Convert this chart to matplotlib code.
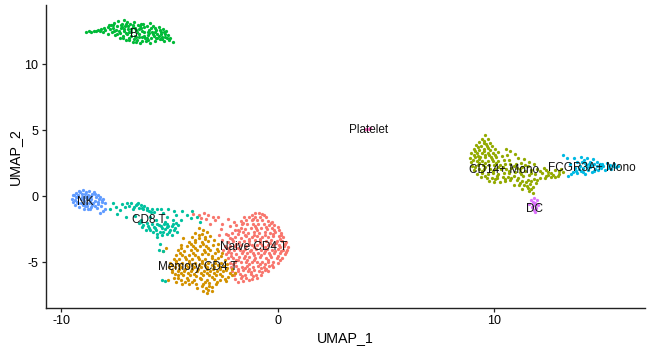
import matplotlib
matplotlib.use('Agg')
import matplotlib.pyplot as plt
import numpy as np

plt.rcParams['font.family'] = ['Liberation Sans', 'DejaVu Sans']

naive_cd4 = [
    (-3.9,-1.35),(-3.65,-1.4),(-3.4,-1.3),(-3.2,-1.45),(-3.0,-1.55),(-3.55,-1.7),(-3.3,-1.75),(-2.9,-1.85),
    (-3.1,-2.1),(-2.75,-1.6),(-2.55,-2.1),(-2.3,-1.75),(-2.6,-2.5),(-2.2,-2.3),(-2.4,-2.9),(-2.0,-2.0),
    (-1.05,-1.25),(-0.85,-1.3),(-0.7,-1.35),(-1.2,-1.4),(-1.55,-1.6),(-1.3,-1.6),(-1.05,-1.55),(-0.8,-1.6),(-0.55,-1.6),
    (-1.7,-1.9),(-1.45,-1.85),(-1.2,-1.85),(-0.95,-1.8),(-0.7,-1.85),(-0.45,-1.9),(-0.25,-1.95),
    (-1.9,-2.2),(-1.65,-2.15),(-1.4,-2.1),(-1.15,-2.15),(-0.9,-2.1),(-0.65,-2.15),(-0.4,-2.2),(-0.15,-2.2),(0.0,-2.35),
    (-1.95,-2.55),(-1.7,-2.45),(-1.5,-2.5),(-1.25,-2.4),(-1.0,-2.45),(-0.75,-2.4),(-0.5,-2.5),(-0.25,-2.45),(0.05,-2.6),(0.15,-2.8),
    (-2.1,-2.8),(-1.85,-2.85),(-1.6,-2.75),(-1.35,-2.8),(-1.1,-2.75),(-0.85,-2.8),(-0.6,-2.75),(-0.35,-2.8),(-0.1,-2.75),
    (-2.2,-3.15),(-1.95,-3.1),(-1.7,-3.15),(-1.45,-3.05),(-1.2,-3.1),(-0.95,-3.05),(-0.7,-3.1),(-0.45,-3.1),(-0.2,-3.05),(0.05,-3.05),(0.25,-3.1),
    (-2.3,-3.5),(-2.05,-3.4),(-1.8,-3.45),(-1.55,-3.4),(-1.3,-3.4),(-1.05,-3.35),(-0.8,-3.4),(-0.55,-3.4),(-0.3,-3.35),(-0.05,-3.4),(0.2,-3.4),(0.4,-3.45),
    (-2.45,-3.8),(-2.2,-3.75),(-1.95,-3.75),(-1.7,-3.7),(-1.45,-3.75),(-1.2,-3.7),(-0.95,-3.7),(-0.7,-3.7),(-0.45,-3.7),(-0.2,-3.7),(0.05,-3.7),(0.3,-3.75),(0.47,-3.85),
    (-2.5,-4.1),(-2.25,-4.05),(-2.0,-4.05),(-1.75,-4.05),(-1.5,-4.0),(-1.25,-4.05),(-1.0,-4.0),(-0.75,-4.05),(-0.5,-4.0),(-0.25,-4.05),(0.0,-4.0),(0.25,-4.05),(0.45,-4.1),
    (-2.4,-4.4),(-2.15,-4.35),(-1.9,-4.4),(-1.65,-4.35),(-1.4,-4.35),(-1.15,-4.35),(-0.9,-4.35),(-0.65,-4.35),(-0.4,-4.35),(-0.15,-4.35),(0.1,-4.35),(0.35,-4.4),
    (-2.3,-4.7),(-2.05,-4.7),(-1.8,-4.65),(-1.55,-4.7),(-1.3,-4.65),(-1.05,-4.7),(-0.8,-4.65),(-0.55,-4.7),(-0.3,-4.65),(-0.05,-4.7),(0.2,-4.7),
    (-2.2,-5.05),(-1.95,-5.0),(-1.7,-5.0),(-1.45,-5.0),(-1.2,-5.0),(-0.95,-5.0),(-0.7,-5.0),(-0.45,-5.0),(-0.2,-5.0),(0.0,-5.05),
    (-2.15,-5.35),(-1.9,-5.3),(-1.65,-5.35),(-1.4,-5.3),(-1.15,-5.35),(-0.9,-5.3),(-0.65,-5.35),(-0.4,-5.3),(-0.2,-5.4),
    (-2.1,-5.65),(-1.85,-5.65),(-1.6,-5.6),(-1.35,-5.65),(-1.1,-5.6),(-0.85,-5.65),(-0.6,-5.6),(-0.45,-5.7),
    (-2.0,-5.95),(-1.75,-5.9),(-1.5,-5.95),(-1.25,-5.9),(-1.0,-5.95),(-0.75,-5.95),
    (-1.95,-6.25),(-1.7,-6.2),(-1.45,-6.2),(-1.2,-6.25),(-0.95,-6.2),(-1.85,-6.5),(-1.6,-6.4),
    (-2.7,-2.95),(-2.55,-3.3),(-1.83,-2.6),(-1.08,-2.95),(-0.58,-2.95),(-1.33,-3.6),(-0.83,-3.55),(-0.33,-3.55),(-1.58,-4.2),
    (-0.58,-4.2),(0.17,-4.2),(-1.08,-4.5),(-0.33,-4.5),(-1.83,-4.85),(-1.08,-4.85),(-0.58,-5.15),(-1.33,-5.5),(-1.83,-5.5),
    (-1.12,-1.72),(-0.63,-1.43),(-1.58,-2.02),(-0.32,-2.07),(-1.03,-2.28),(-0.52,-2.33),(-1.77,-2.67),(-0.93,-2.6),(-0.17,-2.6),(-1.52,-2.92),
    (-2.27,-2.98),(-0.23,-2.9),(0.17,-2.95),(-1.33,-3.23),(-0.83,-3.22),(-2.12,-3.27),(0.12,-3.23),(-1.93,-3.6),(-0.08,-3.55),(0.33,-3.6),
    (-2.33,-3.92),(-1.82,-3.9),(-1.08,-3.87),(-0.58,-3.87),(0.12,-3.88),(-2.27,-4.22),(-1.27,-4.2),(-0.12,-4.2),(0.37,-4.23),(-2.17,-4.52),
    (-1.52,-4.52),(-0.77,-4.5),(0.02,-4.52),(-1.93,-4.83),(-1.42,-4.83),(-0.42,-4.83),(0.12,-4.88),(-2.07,-5.18),(-1.32,-5.17),(-0.83,-5.17),
    (-0.27,-5.2),(-1.52,-5.47),(-0.77,-5.48),(-0.52,-5.52),(-1.97,-5.8),(-1.23,-5.78),(-0.73,-5.78),(-1.63,-6.07),(-1.12,-6.08),(-1.32,-6.38),
]

memory_cd4 = [
    (-3.65,-2.45),(-3.45,-2.55),(-3.8,-2.8),(-3.5,-2.9),(-3.25,-2.75),(-3.95,-3.1),(-3.65,-3.15),(-3.35,-3.1),(-3.1,-3.05),
    (-4.35,-3.2),(-4.1,-3.45),(-3.8,-3.5),(-3.5,-3.45),(-3.2,-3.4),(-2.95,-3.35),(-4.45,-3.7),(-4.2,-3.8),(-3.9,-3.8),(-3.6,-3.75),(-3.3,-3.75),(-3.0,-3.7),(-2.75,-3.6),
    (-5.15,-3.9),(-4.6,-4.1),(-4.3,-4.15),(-4.0,-4.1),(-3.7,-4.1),(-3.4,-4.05),(-3.1,-4.05),(-2.8,-4.0),(-2.55,-4.3),
    (-5.3,-4.2),(-4.7,-4.45),(-4.4,-4.5),(-4.1,-4.45),(-3.8,-4.45),(-3.5,-4.4),(-3.2,-4.4),(-2.9,-4.35),(-2.6,-4.55),
    (-4.8,-4.75),(-4.55,-4.8),(-4.25,-4.75),(-3.95,-4.8),(-3.65,-4.75),(-3.35,-4.75),(-3.05,-4.7),(-2.75,-4.7),(-2.45,-4.85),
    (-4.95,-5.1),(-4.7,-5.1),(-4.4,-5.1),(-4.1,-5.05),(-3.8,-5.1),(-3.5,-5.05),(-3.2,-5.05),(-2.9,-5.05),(-2.6,-5.05),(-2.35,-5.15),
    (-5.0,-5.4),(-4.75,-5.4),(-4.45,-5.4),(-4.15,-5.4),(-3.85,-5.4),(-3.55,-5.35),(-3.25,-5.4),(-2.95,-5.35),(-2.65,-5.4),(-2.35,-5.45),(-2.1,-5.55),
    (-4.9,-5.75),(-4.6,-5.7),(-4.3,-5.7),(-4.0,-5.7),(-3.7,-5.7),(-3.4,-5.65),(-3.1,-5.7),(-2.8,-5.7),(-2.5,-5.7),(-2.2,-5.8),(-1.95,-5.85),
    (-5.05,-6.35),(-4.8,-6.2),(-4.6,-6.0),(-4.35,-6.0),(-4.05,-6.0),(-3.75,-6.05),(-3.45,-6.0),(-3.15,-6.0),(-2.85,-6.0),(-2.55,-6.05),(-2.3,-6.1),
    (-4.7,-6.5),(-4.45,-6.35),(-4.15,-6.35),(-3.85,-6.35),(-3.55,-6.3),(-3.25,-6.35),(-2.95,-6.3),(-2.65,-6.35),(-2.4,-6.45),
    (-4.4,-6.7),(-4.1,-6.7),(-3.75,-6.65),(-3.45,-6.65),(-3.15,-6.6),(-2.85,-6.65),(-3.7,-7.0),(-3.3,-6.95),(-3.05,-6.9),(-3.45,-7.2),(-3.25,-7.35),(-3.05,-7.2),
    (-4.25,-5.25),(-3.65,-5.25),(-3.05,-5.2),(-4.55,-5.55),(-3.95,-5.55),(-3.25,-5.55),(-2.65,-5.55),(-4.15,-5.85),(-3.55,-5.85),(-2.95,-5.85),
    (-3.62,-2.98),(-3.82,-3.32),(-3.37,-3.27),(-4.02,-3.63),(-3.43,-3.6),(-4.47,-3.95),(-3.83,-3.95),(-3.23,-3.9),(-4.53,-4.28),(-3.93,-4.28),
    (-3.33,-4.23),(-2.77,-4.18),(-4.27,-4.6),(-3.67,-4.6),(-3.03,-4.53),(-4.67,-4.93),(-4.08,-4.93),(-3.5,-4.9),(-2.87,-4.88),(-4.87,-5.23),
    (-4.57,-5.25),(-3.97,-5.22),(-3.37,-5.2),(-2.77,-5.22),(-2.47,-5.27),(-4.87,-5.57),(-4.27,-5.55),(-3.67,-5.52),(-2.97,-5.53),(-2.37,-5.6),
    (-4.75,-5.88),(-4.45,-5.85),(-3.85,-5.88),(-3.25,-5.85),(-2.67,-5.87),(-2.1,-5.98),(-4.58,-6.18),(-4.2,-6.17),(-3.6,-6.17),(-3.03,-6.15),
    (-2.43,-6.25),(-4.28,-6.52),(-3.97,-6.53),(-3.37,-6.48),(-2.8,-6.48),(-3.5,-6.83),(-3.17,-6.78),(-3.22,-7.1),
]

cd8_t = [
    (-7.75,-1.0),(-7.6,-0.55),(-7.45,-0.8),(-7.3,-1.05),(-7.2,-0.6),(-7.05,-0.85),(-6.95,-0.5),(-6.85,-0.75),(-6.75,-0.55),(-6.7,-1.0),
    (-6.55,-0.7),(-6.45,-0.5),(-6.4,-0.9),(-6.3,-0.65),(-6.2,-1.0),(-6.15,-0.75),(-6.05,-0.9),(-5.95,-1.15),(-5.8,-0.95),(-5.7,-1.2),(-5.55,-1.0),(-5.4,-0.95),
    (-7.4,-1.35),(-7.0,-1.6),(-6.6,-1.5),(-6.3,-1.85),(-5.9,-1.6),(-5.3,-1.3),(-5.05,-0.95),(-4.8,-1.1),(-5.1,-1.6),(-4.7,-1.45),(-4.4,-1.15),(-4.2,-1.4),(-4.45,-1.85),(-4.0,-1.65),(-3.7,-1.55),(-3.95,-1.1),(-3.6,-1.95),
    (-6.4,-2.05),(-6.2,-2.2),(-6.05,-2.05),(-5.95,-2.4),(-5.8,-2.15),(-5.65,-2.45),(-5.55,-2.1),(-5.45,-2.7),(-5.4,-2.3),(-5.25,-2.1),(-5.2,-2.5),(-5.1,-2.85),
    (-5.05,-2.25),(-4.95,-2.55),(-4.85,-2.1),(-4.75,-2.4),(-4.65,-2.75),(-4.6,-2.2),(-6.1,-2.55),(-5.75,-2.75),(-5.35,-2.95),(-5.55,-3.1),(-4.9,-2.95),(-6.3,-1.95),(-5.6,-1.85),
    (-5.2,-1.95),(-4.85,-1.85),(-5.45,-3.6),(-5.5,-4.05),(-5.3,-4.15),(-5.35,-6.35),(-5.2,-6.4),
    (-6.62,-0.82),(-6.28,-0.93),(-6.5,-0.62),(-6.02,-1.05),(-5.87,-1.18),(-6.27,-2.35),(-6.0,-2.27),(-5.88,-2.6),(-5.72,-2.32),(-5.6,-2.6),
    (-5.48,-2.18),(-5.32,-2.42),(-5.3,-2.72),(-5.13,-2.13),(-5.12,-2.38),(-5.0,-2.72),(-4.88,-2.3),(-4.8,-2.6),(-4.68,-2.05),(-5.58,-2.85),
]

nk = [
    (-9.5,-0.2),(-9.45,-0.45),(-9.45,0.05),(-9.35,-0.7),(-9.35,-0.3),(-9.3,0.25),(-9.25,-0.05),(-9.2,-0.55),(-9.15,-0.85),(-9.15,0.4),
    (-9.1,-0.25),(-9.05,0.15),(-9.0,-0.65),(-9.0,0.45),(-8.95,-0.4),(-8.95,-0.95),(-8.9,-0.05),(-8.85,0.3),(-8.8,-0.75),(-8.8,-0.25),
    (-8.75,0.1),(-8.7,-0.5),(-8.7,0.35),(-8.65,-0.95),(-8.6,-0.2),(-8.55,-0.7),(-8.55,0.15),(-8.5,0.3),(-8.45,-0.4),(-8.4,-0.05),
    (-8.35,-0.9),(-8.3,-0.6),(-8.3,0.1),(-8.25,-0.25),(-8.2,-0.1),(-8.15,-0.75),(-8.1,-0.45),(-8.05,-0.2),(-8.05,-1.15),(-7.95,-0.95),(-7.95,-0.55),
    (-9.3,-0.1),(-9.1,-0.5),(-8.9,0.15),(-8.65,-0.4),(-8.85,-0.5),(-9.2,0.1),(-8.45,0.15),(-9.4,0.1),(-8.6,-0.85),(-8.9,-0.75),(-8.75,-1.0),(-8.2,-1.3),
    (-9.28,-0.42),(-9.05,-0.1),(-8.98,-0.22),(-9.12,0.27),(-8.78,-0.07),(-8.63,0.02),(-8.52,-0.53),(-8.42,-0.75),(-8.28,-0.42),(-8.12,-0.28),
]

b_cells = [
    (-8.85,12.45),(-8.7,12.5),(-8.6,12.42),(-8.5,12.52),(-8.4,12.47),(-8.3,12.58),(-8.2,12.5),(-8.15,12.66),(-8.05,12.4),(-8.0,12.72),
    (-7.95,12.55),(-7.85,12.25),(-7.85,12.82),(-7.75,12.62),(-7.7,12.95),(-7.65,12.4),(-7.6,12.75),(-7.55,13.1),(-7.5,12.2),(-7.45,12.55),
    (-7.4,12.9),(-7.35,13.25),(-7.3,11.95),(-7.3,12.35),(-7.25,12.7),(-7.2,13.05),(-7.15,12.1),(-7.1,13.3),(-7.1,12.5),(-7.05,12.85),
    (-7.0,11.8),(-6.95,12.25),(-6.95,13.15),(-6.9,12.65),(-6.85,12.0),(-6.8,13.0),(-6.75,12.4),(-6.7,11.65),(-6.7,12.8),(-6.65,13.2),
    (-6.6,12.15),(-6.55,12.55),(-6.5,11.85),(-6.45,12.95),(-6.4,12.3),(-6.35,11.6),(-6.3,12.7),(-6.25,12.05),(-6.2,13.0),(-6.15,12.45),
    (-6.1,11.75),(-6.05,12.85),(-6.0,12.2),(-5.95,12.6),(-5.9,13.1),(-5.9,11.6),(-5.85,11.95),(-5.8,12.4),(-5.75,12.85),(-5.7,12.1),
    (-5.65,11.75),(-5.6,12.6),(-5.55,12.25),(-5.5,12.8),(-5.45,11.9),(-5.4,12.45),(-5.35,12.05),(-5.3,12.65),(-5.25,11.75),(-5.2,12.25),
    (-5.15,12.5),(-5.1,11.95),(-5.05,12.2),(-5.0,11.8),(-4.95,12.0),(-4.85,11.7),
    (-7.55,12.5),(-7.4,12.25),(-7.25,12.95),(-7.1,12.65),(-7.0,13.05),(-6.85,12.4),(-6.75,12.15),(-6.6,12.75),(-6.5,12.4),(-6.35,12.85),
    (-6.25,12.5),(-6.15,12.15),(-6.0,12.45),(-5.85,12.7),(-5.75,12.3),(-5.55,12.0),(-5.45,12.6),(-5.25,12.4),(-6.55,12.05),(-6.85,11.8),
    (-7.8,12.95),(-7.6,12.95),(-6.3,13.0),(-6.05,11.95),(-6.25,11.75),(-6.55,11.65),(-5.65,12.45),
    (-7.33,12.52),(-7.18,12.82),(-7.02,12.38),(-6.93,12.9),(-6.77,12.62),(-6.67,12.98),(-6.62,11.9),(-6.42,12.62),(-6.38,12.08),(-6.18,12.78),
    (-6.12,11.95),(-5.93,12.32),(-5.97,11.82),(-5.68,12.7),(-5.62,12.0),(-5.38,12.28),(-5.48,12.15),(-5.18,12.02),(-5.32,11.88),(-7.15,11.95),
]

cd14_mono = [
    (9.58,4.6),(9.45,4.35),(9.7,4.3),(9.3,4.1),(9.55,4.05),(9.8,4.05),(9.15,3.85),(9.4,3.8),(9.65,3.8),(9.9,3.8),
    (9.05,3.55),(9.3,3.5),(9.55,3.55),(9.8,3.5),(10.05,3.55),(10.55,3.6),(8.95,3.25),(9.2,3.25),(9.45,3.25),(9.7,3.25),(9.95,3.25),(10.2,3.3),(10.75,3.4),
    (8.9,2.9),(9.1,2.95),(9.35,2.95),(9.6,2.95),(9.85,2.95),(10.1,2.95),(10.35,3.0),(10.6,3.1),(10.95,3.2),
    (8.95,2.6),(9.2,2.65),(9.45,2.65),(9.7,2.65),(9.95,2.65),(10.2,2.65),(10.45,2.7),(10.7,2.75),(11.1,2.85),(11.4,2.8),
    (9.0,2.3),(9.25,2.35),(9.5,2.35),(9.75,2.35),(10.0,2.35),(10.25,2.35),(10.5,2.4),(10.75,2.4),(11.0,2.45),(11.25,2.5),(11.6,2.6),
    (9.05,2.0),(9.3,2.05),(9.55,2.05),(9.8,2.05),(10.05,2.05),(10.3,2.05),(10.55,2.05),(10.8,2.1),(11.05,2.15),(11.3,2.2),(11.55,2.25),(11.85,2.4),
    (9.2,1.7),(9.45,1.75),(9.7,1.7),(9.95,1.75),(10.2,1.7),(10.45,1.75),(10.7,1.75),(10.95,1.8),(11.2,1.85),(11.45,1.9),(11.7,1.95),(12.0,2.05),(12.3,2.1),
    (9.4,1.45),(9.65,1.4),(9.9,1.4),(10.15,1.4),(10.4,1.45),(10.65,1.45),(10.9,1.5),(11.35,1.55),(11.6,1.6),(11.9,1.65),(12.2,1.75),(12.5,1.85),(12.8,1.95),(13.1,2.05),
    (9.75,1.15),(10.0,1.1),(10.25,1.05),(10.5,1.15),(10.75,1.2),(11.05,1.2),(11.3,1.15),(11.55,1.25),(11.85,1.3),(12.1,1.4),(12.4,1.5),(12.7,1.6),(13.0,1.7),(13.2,1.8),
    (11.15,0.8),(11.4,0.85),(11.65,0.9),(11.95,1.0),(11.3,0.55),(11.55,0.6),(11.8,0.7),(11.8,0.2),(11.6,0.35),(10.9,0.85),
    (9.3,2.5),(9.6,2.2),(9.9,2.8),(10.4,2.2),(10.15,1.55),(9.6,1.55),(9.25,3.05),(9.55,3.4),(12.5,1.6),(12.8,1.45),
    (9.52,4.18),(9.62,3.93),(9.27,3.68),(9.72,3.67),(9.12,3.38),(9.58,3.1),(9.05,3.08),(9.03,2.75),(9.78,3.1),(10.02,3.08),
    (9.32,2.78),(9.57,2.5),(10.08,2.5),(9.12,2.17),(10.18,2.17),(9.42,1.9),(9.93,1.9),(10.68,1.9),(11.18,2.02),(10.92,2.28),
    (11.42,2.38),(11.22,1.68),(11.72,1.78),(12.12,1.92),(12.42,2.0),(12.62,1.72),(12.98,1.88),(12.35,1.33),(12.65,1.42),(12.95,1.52),
    (11.72,1.12),(11.48,1.05),(12.0,1.2),(11.2,1.0),(11.53,0.78),(11.72,0.52),(10.52,1.32),(10.02,1.28),(10.78,1.35),(11.1,1.4),
]

fcgr3a_mono = [
    (13.2,3.1),(13.35,2.85),(13.5,2.45),(13.7,2.85),(13.85,2.6),(14.0,2.95),(14.15,2.7),(14.3,2.85),(14.45,2.6),(14.55,2.8),
    (13.4,1.55),(13.55,1.65),(13.65,1.8),(13.75,2.15),(13.85,1.75),(13.95,2.3),(14.0,1.9),(14.1,2.1),(14.2,1.7),(14.25,2.35),
    (14.35,1.95),(14.45,2.2),(14.5,1.85),(14.6,2.45),(14.65,2.05),(14.75,2.25),(14.8,1.95),(14.9,2.45),(14.95,2.1),(15.05,2.3),
    (15.1,1.95),(15.2,2.5),(15.25,2.15),(15.35,2.35),(15.4,2.05),(15.5,2.25),(15.55,2.4),(15.65,2.2),(15.7,2.3),(14.05,2.55),(14.4,2.4),(14.75,2.55),
    (14.18,2.5),(13.92,2.05),(14.3,2.17),(14.52,2.33),(14.88,2.25),(13.78,1.92),(14.12,1.85),(14.62,1.9),(15.0,2.45),(15.3,2.25),
]

dc = [
    (11.85,-0.15),(11.7,-0.3),(12.0,-0.3),(11.8,-0.45),(11.9,-0.55),(11.6,-0.6),(11.85,-0.7),(12.05,-0.65),(11.75,-0.85),(11.95,-0.9),(11.85,-1.05),(11.9,-1.2),
]

platelet = [(4.1,5.1),(4.2,5.05),(4.28,5.12)]

clusters = [naive_cd4, memory_cd4, cd14_mono, b_cells, cd8_t, fcgr3a_mono, nk, dc, platelet]
cluster_colors = ['#F8766D', '#D39200', '#93AA00', '#00BA38', '#00C19F', '#00B9E3', '#619CFF', '#DB72FB', '#FF61C3']
cluster_names = ['Naive CD4 T', 'Memory CD4 T', 'CD14+ Mono', 'B', 'CD8 T', 'FCGR3A+ Mono', 'NK', 'DC', 'Platelet']
label_x = [-1.13, -3.67, 10.46, -6.65, -5.93, 14.53, -8.9, 11.85, 4.18]
label_y = [-3.87, -5.38, 1.97, 12.25, -1.82, 2.12, -0.46, -0.98, 5.0]

fig = plt.figure(figsize=(6.5, 3.52), dpi=100)
ax = fig.add_axes([45.5/650, 1 - 308/352, (645 - 45.5)/650, (308 - 5)/352])

for pts, col in zip(clusters, cluster_colors):
    pts = np.array(pts)
    ax.scatter(pts[:, 0], pts[:, 1], s=5.5, color=col, linewidths=0, zorder=2)

for name, lx, ly in zip(cluster_names, label_x, label_y):
    ax.text(lx, ly, name, ha='center', va='center', fontsize=8.5, color='#111111', zorder=3)

ax.set_xlim(-10.72, 16.97)
ax.set_ylim(-8.48, 14.47)
ax.set_xticks([-10, 0, 10])
ax.set_yticks([-5, 0, 5, 10])
ax.set_xticklabels(['-10', '0', '10'])
ax.set_yticklabels(['-5', '0', '5', '10'])
ax.tick_params(labelsize=9, length=3, width=0.9, color='#222222', pad=2)
ax.set_xlabel('UMAP_1', fontsize=10.3, labelpad=3)
ax.set_ylabel('UMAP_2', fontsize=10.3, labelpad=2)
for side in ['top', 'right']:
    ax.spines[side].set_visible(False)
for side in ['left', 'bottom']:
    ax.spines[side].set_linewidth(1.0)
    ax.spines[side].set_color('#222222')

fig.savefig('out.png', dpi=100)
